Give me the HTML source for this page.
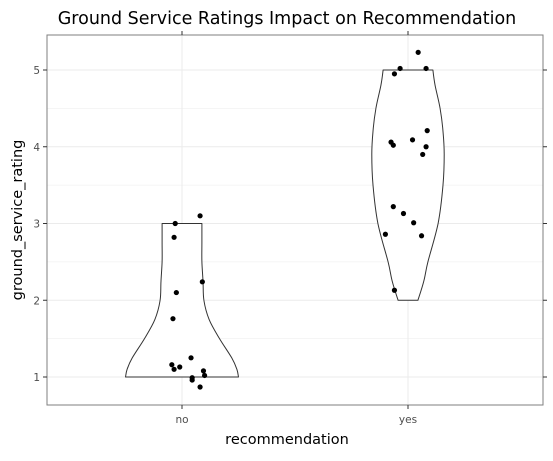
<!DOCTYPE html>
<html><head><meta charset="utf-8"><style>body{margin:0;background:#fff}svg text{font-family:"DejaVu Sans","Liberation Sans",sans-serif}</style></head>
<body>
<svg id="chart" width="553" height="456"></svg>
<script>
const categories=["no","yes"];
const yTicks=[1,2,3,4,5];
const noY=[3.0,3.1,2.82,2.1,2.24,1.76,1.16,1.1,1.13,1.25,1.08,0.99,1.02,0.96,0.87];
const noJit=[-0.03,0.08,-0.035,-0.025,0.09,-0.04,-0.045,-0.035,-0.01,0.04,0.095,0.045,0.1,0.045,0.08];
const yesY=[5.23,5.02,4.95,5.02,4.06,4.02,4.09,4.21,4.0,3.9,3.22,3.13,3.01,2.86,2.84,2.13];
const yesJit=[0.045,-0.035,-0.06,0.08,-0.075,-0.065,0.02,0.085,0.08,0.065,-0.065,-0.02,0.025,-0.1,0.06,-0.06];
const noViolinY=[1,1.1,1.25,1.5,1.75,2,2.25,2.5,2.75,3];
const noViolinW=[0.25,0.243,0.22,0.166,0.12,0.097,0.093,0.088,0.088,0.088];
const yesViolinY=[2,2.25,2.5,3,3.5,3.9,4.2,4.5,4.8,5];
const yesViolinW=[0.044,0.07,0.088,0.133,0.155,0.16,0.155,0.142,0.12,0.11];
const L=47,R=543,T=35,B=405;
const xS=i=>182+i*226;
const yS=v=>377-(v-1)*76.75;
const svg=document.getElementById('chart');const NS='http://www.w3.org/2000/svg';
function mk(t,a,p){const e=document.createElementNS(NS,t);for(const k in a)e.setAttribute(k,a[k]);(p||svg).appendChild(e);return e;}
let e=mk('rect',{x:L,y:T,width:R-L,height:B-T,fill:'#fff'});

for(let v=0.5;v<=5.5;v+=0.5){const y=yS(v);if(y<T||y>B)continue;e=mk('line',{x1:L,x2:R,y1:y,y2:y,stroke:'#ebebeb','stroke-width':Number.isInteger(v)?1:0.6});
}
categories.forEach((c,i)=>{e=mk('line',{x1:xS(i),x2:xS(i),y1:T,y2:B,stroke:'#ebebeb'});
});
function smooth(pts){let d='';for(let k=0;k<pts.length-1;k++){const p0=pts[Math.max(k-1,0)],p1=pts[k],p2=pts[k+1],p3=pts[Math.min(k+2,pts.length-1)];
const c1=[p1[0]+(p2[0]-p0[0])/6,p1[1]+(p2[1]-p0[1])/6],c2=[p2[0]-(p3[0]-p1[0])/6,p2[1]-(p3[1]-p1[1])/6];
d+=' C'+c1[0].toFixed(1)+','+c1[1].toFixed(1)+' '+c2[0].toFixed(1)+','+c2[1].toFixed(1)+' '+p2[0].toFixed(1)+','+p2[1].toFixed(1);}return d;}
function violin(i,ys,ws,name){const c=xS(i);let right=ys.map((v,k)=>[c+ws[k]*226,yS(v)]);let left=ys.map((v,k)=>[c-ws[k]*226,yS(v)]).reverse();
let d='M'+right[0][0].toFixed(1)+','+right[0][1].toFixed(1)+smooth(right)+' L'+left[0][0].toFixed(1)+','+left[0][1].toFixed(1)+smooth(left)+'Z';
e=mk('path',{d:d,fill:'#fff',stroke:'#333','stroke-width':1,'stroke-linejoin':'round'});
}
violin(0,noViolinY,noViolinW,'violin-no');violin(1,yesViolinY,yesViolinW,'violin-yes');
noY.forEach((v,k)=>{e=mk('circle',{cx:xS(0)+noJit[k]*226,cy:yS(v),r:2.6,fill:'#000'});
});
yesY.forEach((v,k)=>{e=mk('circle',{cx:xS(1)+yesJit[k]*226,cy:yS(v),r:2.6,fill:'#000'});
});
e=mk('rect',{x:L,y:T,width:R-L,height:B-T,fill:'none',stroke:'#7f7f7f','stroke-width':1});

yTicks.forEach(v=>{const y=yS(v);mk('line',{x1:L-4,x2:L,y1:y,y2:y,stroke:'#333'});mk('line',{x1:R,x2:R+4,y1:y,y2:y,stroke:'#333'});
e=mk('text',{x:L-7,y:y+4,'text-anchor':'end','font-size':10.5,fill:'#4d4d4d'});e.textContent=v;
});
categories.forEach((c,i)=>{const x=xS(i);mk('line',{x1:x,x2:x,y1:B,y2:B+4,stroke:'#333'});mk('line',{x1:x,x2:x,y1:T-4,y2:T,stroke:'#333'});
e=mk('text',{x:x,y:B+18,'text-anchor':'middle','font-size':10.5,fill:'#4d4d4d'});e.textContent=c;
});
e=mk('text',{x:287,y:444,'text-anchor':'middle','font-size':14.5,fill:'#000'});e.textContent='recommendation';

e=mk('text',{x:22,y:220,'text-anchor':'middle','font-size':14.5,fill:'#000',transform:'rotate(-90 22 220)'});e.textContent='ground_service_rating';

e=mk('text',{x:287,y:24,'text-anchor':'middle','font-size':17.5,fill:'#000'});e.textContent='Ground Service Ratings Impact on Recommendation';

</script>
</body></html>
